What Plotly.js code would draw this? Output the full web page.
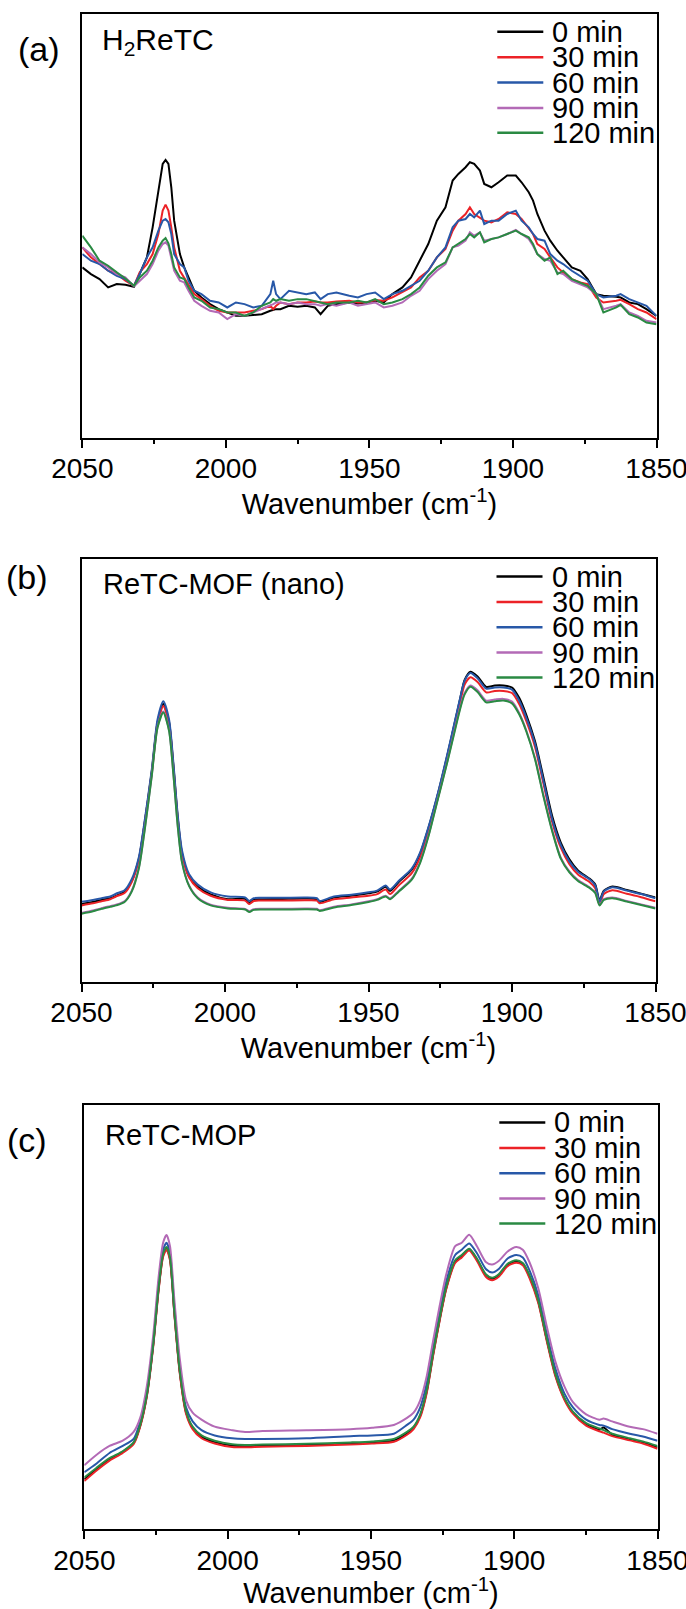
<!DOCTYPE html>
<html>
<head>
<meta charset="utf-8">
<script src="https://cdn.plot.ly/plotly-3.0.1.min.js"></script>
<style>html,body{margin:0;padding:0;background:#fff;overflow:hidden;}#chart{width:686px;height:1609px;}</style>
</head>
<body>
<div id="chart"></div>
<script>
// ---------- DATA ----------
const seriesNames = ['0 min', '30 min', '60 min', '90 min', '120 min'];
const panelLetters = ['(a)', '(b)', '(c)'];
const panelNames = ['H<sub>2</sub>ReTC', 'ReTC-MOF (nano)', 'ReTC-MOP'];
const xTickVals = [2050, 2000, 1950, 1900, 1850];
const xTitle = 'Wavenumber (cm<sup>-1</sup>)';

// (a) H2ReTC — wavenumber (cm-1)
const xA = [2050,2047,2044,2041,2038,2035,2032,2030,2027.5,2025.5,
  2023.5,2022,2021,2020,2019,2018,2016,2014.5,2013,2011,
  2008.5,2005.5,2002.5,1999.5,1996.5,1993.5,1990.5,1987.5,1984.5,1983.5,
  1982.5,1981,1978,1975,1972,1969,1967,1964.5,1961.5,1957,
  1954,1951,1948,1945,1942,1938.5,1935.5,1932.5,1929.5,1926.5,
  1923.5,1921,1919,1916.5,1915,1913.5,1911.5,1910,1907.5,1905,
  1902,1899,1897,1894.5,1893,1891.5,1889,1887,1884.5,1882.5,
  1879.5,1876.5,1874,1871,1868.5,1864,1862.5,1859.5,1856.5,1853.5,
  1850];
const a0 = [.510,.490,.475,.450,.460,.458,.452,.490,.540,.630,
  .740,.820,.832,.820,.750,.650,.550,.510,.480,.440,
  .420,.400,.385,.375,.365,.365,.368,.370,.380,.382,
  .385,.385,.395,.392,.395,.390,.370,.395,.400,.405,
  .402,.405,.410,.405,.430,.450,.480,.530,.580,.650,
  .690,.770,.790,.810,.825,.820,.800,.760,.750,.765,
  .785,.785,.765,.735,.710,.670,.620,.590,.560,.540,
  .510,.500,.475,.430,.425,.422,.420,.405,.400,.385,
  .365];
const a30 = [.570,.540,.520,.500,.490,.470,.455,.495,.520,.550,
  .610,.680,.698,.680,.630,.570,.500,.480,.460,.430,
  .415,.395,.380,.375,.375,.375,.380,.385,.395,.385,
  .395,.405,.400,.405,.405,.408,.405,.405,.408,.410,
  .405,.405,.412,.410,.420,.435,.450,.480,.500,.540,
  .565,.620,.650,.670,.690,.670,.660,.650,.645,.655,
  .675,.670,.655,.625,.610,.580,.565,.540,.510,.495,
  .475,.465,.460,.420,.405,.410,.413,.400,.385,.375,
  .355];
const a60 = [.550,.530,.520,.500,.485,.475,.455,.490,.540,.570,
  .620,.650,.655,.645,.610,.550,.520,.510,.470,.440,
  .430,.410,.405,.390,.405,.400,.390,.395,.430,.470,
  .430,.415,.440,.435,.430,.435,.415,.430,.435,.425,
  .420,.430,.435,.415,.430,.440,.455,.470,.500,.540,
  .570,.630,.650,.655,.670,.660,.680,.640,.650,.650,
  .670,.680,.650,.630,.610,.595,.590,.550,.530,.520,
  .500,.485,.470,.430,.420,.425,.430,.415,.405,.395,
  .365];
const a90 = [.570,.550,.525,.510,.490,.480,.453,.470,.490,.520,
  .560,.580,.585,.575,.540,.500,.470,.465,.440,.410,
  .395,.380,.375,.355,.370,.365,.375,.385,.395,.400,
  .405,.405,.400,.405,.400,.400,.395,.400,.395,.405,
  .395,.400,.405,.390,.395,.405,.425,.440,.475,.500,
  .520,.570,.575,.590,.615,.605,.615,.590,.595,.600,
  .610,.622,.610,.595,.575,.550,.535,.530,.495,.490,
  .470,.460,.450,.430,.385,.395,.400,.375,.365,.350,
  .345];
const a120 = [.605,.570,.530,.515,.495,.477,.455,.480,.500,.530,
  .570,.590,.598,.582,.550,.510,.480,.475,.450,.420,
  .410,.390,.385,.375,.375,.365,.375,.395,.405,.415,
  .410,.415,.410,.415,.415,.410,.405,.400,.405,.405,
  .410,.405,.415,.400,.405,.415,.430,.450,.485,.510,
  .525,.570,.580,.595,.610,.600,.615,.585,.595,.600,
  .610,.620,.610,.600,.580,.550,.530,.540,.490,.500,
  .475,.465,.455,.430,.375,.390,.398,.370,.360,.345,
  .340];

// (b) ReTC-MOF (nano)
const xB = [2050,2046,2043,2040,2038,2035,2032.5,2030,2028,2025.5,
  2023.5,2021.5,2019.5,2018,2016.5,2015,2012.5,2009.5,2005,1999,
  1993,1991.5,1990,1987,1980,1972,1968,1967,1962,1956,
  1950,1947,1944,1942.5,1939.5,1935,1932,1929,1926,1922.5,
  1919.5,1918,1916.5,1914.5,1912,1909,1906,1903,1900,1897.5,
  1895,1892,1889,1886,1883,1880,1877,1873,1871,1869.5,
  1868,1865,1860,1855,1850];
const b0 = [.226,.232,.238,.243,.250,.262,.293,.358,.462,.612,
  .755,.808,.756,.630,.480,.375,.305,.276,.254,.240,
  .241,.228,.239,.240,.241,.242,.240,.232,.245,.250,
  .257,.262,.276,.264,.290,.325,.373,.450,.540,.660,
  .770,.826,.878,.902,.888,.858,.862,.862,.856,.826,
  .776,.700,.592,.482,.405,.356,.324,.300,.283,.236,
  .265,.277,.267,.256,.245];
const b30 = [.222,.228,.234,.240,.248,.258,.290,.355,.460,.608,
  .750,.802,.750,.625,.476,.372,.303,.272,.250,.238,
  .236,.226,.235,.236,.236,.237,.236,.228,.240,.245,
  .250,.255,.268,.255,.280,.315,.362,.440,.530,.650,
  .762,.815,.865,.886,.872,.842,.846,.846,.840,.808,
  .758,.684,.575,.465,.390,.342,.312,.290,.272,.226,
  .255,.266,.256,.246,.234];
const b60 = [.233,.238,.243,.248,.256,.266,.298,.363,.468,.618,
  .763,.816,.763,.638,.488,.383,.313,.283,.260,.248,
  .245,.235,.243,.244,.244,.245,.243,.235,.248,.253,
  .260,.265,.280,.268,.293,.328,.376,.453,.543,.663,
  .773,.828,.876,.898,.883,.853,.856,.856,.850,.818,
  .768,.693,.583,.473,.398,.350,.320,.298,.280,.233,
  .263,.275,.265,.255,.243];
const b90 = [.200,.207,.214,.220,.224,.234,.265,.333,.443,.602,
  .742,.786,.733,.607,.458,.350,.280,.245,.224,.215,
  .212,.205,.211,.212,.212,.213,.212,.208,.218,.225,
  .234,.240,.250,.242,.264,.299,.349,.429,.528,.643,
  .749,.800,.840,.862,.848,.818,.821,.823,.815,.782,
  .731,.651,.541,.441,.361,.321,.296,.275,.260,.224,
  .240,.245,.235,.225,.215];
const b120 = [.198,.205,.212,.218,.222,.232,.262,.330,.440,.600,
  .740,.783,.730,.605,.455,.348,.278,.243,.222,.213,
  .210,.203,.209,.210,.210,.211,.210,.206,.216,.223,
  .232,.238,.248,.240,.262,.296,.346,.426,.525,.640,
  .745,.796,.836,.858,.843,.813,.816,.818,.810,.778,
  .728,.648,.538,.438,.358,.318,.293,.273,.258,.222,
  .238,.243,.233,.223,.213];

// (c) ReTC-MOP
const xC = [2050,2045.7,2041.2,2036.6,2032.8,2030.5,2028.2,2025.9,2024.1,2022.5,
  2021.3,2020.1,2018.6,2016.7,2014.5,2012.2,2009.1,2004.5,1998.4,1993.9,
  1987.8,1972.5,1957.2,1949.6,1942,1937.4,1935.1,1932.8,1930.5,1928.3,
  1926,1923.7,1920.6,1918.3,1915.7,1913,1909.9,1907.7,1905.4,1902.3,
  1899.3,1897,1894.7,1891.6,1888.6,1885.6,1882.5,1879.5,1874.9,1870.3,
  1868.8,1865.8,1859.7,1855.1,1850];
const c0 = [.142,.171,.199,.220,.245,.295,.380,.529,.683,.781,
  .801,.771,.619,.449,.333,.289,.263,.248,.238,.236,
  .238,.240,.244,.247,.253,.273,.289,.323,.393,.498,
  .598,.688,.763,.779,.798,.769,.724,.714,.724,.754,
  .764,.756,.721,.649,.539,.439,.372,.332,.299,.283,
  .290,.269,.256,.247,.233];
const c30 = [.137,.167,.195,.217,.242,.292,.377,.525,.679,.777,
  .797,.767,.615,.445,.329,.285,.259,.244,.234,.233,
  .235,.237,.241,.244,.249,.269,.285,.319,.389,.494,
  .595,.685,.759,.775,.795,.765,.720,.710,.720,.750,
  .760,.753,.717,.645,.535,.435,.369,.329,.295,.279,
  .275,.265,.253,.244,.229];
const c60 = [.162,.187,.217,.237,.257,.307,.387,.537,.697,.797,
  .817,.787,.637,.467,.347,.307,.282,.267,.259,.257,
  .257,.259,.265,.267,.272,.297,.312,.347,.417,.517,
  .617,.707,.782,.797,.815,.787,.742,.732,.742,.772,
  .782,.775,.739,.667,.557,.457,.387,.347,.312,.297,
  .295,.285,.272,.264,.252];
const c90 = [.182,.212,.237,.252,.277,.317,.407,.557,.717,.817,
  .839,.807,.657,.487,.367,.332,.312,.292,.282,.277,
  .280,.282,.285,.289,.297,.317,.332,.367,.437,.537,
  .637,.727,.807,.817,.840,.807,.762,.755,.765,.792,
  .805,.797,.762,.687,.577,.477,.407,.362,.327,.312,
  .315,.307,.292,.285,.272];
const c120 = [.147,.175,.202,.222,.247,.297,.382,.532,.687,.785,
  .805,.775,.622,.452,.337,.292,.267,.252,.242,.240,
  .241,.243,.247,.250,.257,.277,.292,.327,.397,.502,
  .602,.692,.767,.782,.800,.772,.727,.717,.727,.757,
  .767,.759,.725,.652,.542,.442,.375,.335,.302,.287,
  .282,.272,.259,.250,.237];

// ---------- STYLE / LAYOUT ----------
const colors = ['#000000', '#ec2227', '#2858a8', '#b36ab6', '#2a8a43'];
const FONT = 'Liberation Sans, Arial, Helvetica, sans-serif';
const W = 686, H = 1609, MB = 60;   // bottom margin keeps last axis labels inside the plot area
const boxes = [
  {l: 82.3, r: 656.5, t: 14.3, b: 437.7, ymax: 1.268},
  {l: 81.5, r: 655.5, t: 559, b: 981.7, ymax: 1.230},
  {l: 84.3, r: 657.5, t: 1105, b: 1529, ymax: 1.210}
];
const panels = [
  {x: xA, ys: [a0, a30, a60, a90, a120], shape: 'linear'},
  {x: xB, ys: [b0, b30, b60, b90, b120], shape: 'spline'},
  {x: xC, ys: [c0, c30, c60, c90, c120], shape: 'spline'}
];
const letterPos = [{x: 38.5, y: 49}, {x: 27, y: 577.5}, {x: 26.5, y: 1140}];
const namePos = [{x: 100, y: 41}, {x: 100.5, y: 584}, {x: 103, y: 1135}];
const nameSize = [30, 29, 29];
const legRows = [17.5, 43, 68.3, 93.6, 118.5];

const PH = H - MB;
const px = v => v / W;
const py = v => (PH - v) / PH;

const traces = [];
const layout = {
  width: W, height: H,
  margin: {l: 0, r: 0, t: 0, b: MB, pad: 0},
  paper_bgcolor: '#fff', plot_bgcolor: '#fff',
  showlegend: false,
  font: {family: FONT, color: '#000'},
  annotations: [], shapes: []
};

panels.forEach((p, i) => {
  const n = i === 0 ? '' : String(i + 1);
  const bx = boxes[i];
  p.ys.forEach((y, k) => {
    traces.push({
      type: 'scatter', mode: 'lines', name: seriesNames[k],
      x: p.x, y: y, xaxis: 'x' + n, yaxis: 'y' + n,
      line: {color: colors[k], width: 2, shape: p.shape, smoothing: 0.7},
      hoverinfo: 'skip'
    });
  });
  layout['xaxis' + n] = {
    domain: [px(bx.l), px(bx.r)], anchor: 'y' + n,
    range: [2050, 1850], tickvals: xTickVals,
    ticks: 'outside', ticklen: 8, tickwidth: 2, tickcolor: '#000',
    ticklabelstandoff: -3, ticklabeloverflow: 'allow',
    minor: {dtick: 25, tick0: 1850, ticks: 'outside', ticklen: 4, tickwidth: 2, tickcolor: '#000', showgrid: false},
    showline: true, linewidth: 2, linecolor: '#000', mirror: true,
    showgrid: false, zeroline: false, automargin: false,
    tickfont: {family: FONT, size: 28, color: '#000'},
    title: {text: xTitle, font: {family: FONT, size: 29, color: '#000'}, standoff: 9}
  };
  layout['yaxis' + n] = {
    domain: [py(bx.b), py(bx.t)], anchor: 'x' + n,
    range: [0, bx.ymax], showticklabels: false, ticks: '',
    showline: true, linewidth: 2, linecolor: '#000', mirror: true,
    showgrid: false, zeroline: false, automargin: false
  };
  layout.annotations.push({
    xref: 'paper', yref: 'paper', x: px(letterPos[i].x), y: py(letterPos[i].y),
    xanchor: 'center', yanchor: 'middle', showarrow: false,
    text: panelLetters[i], font: {family: FONT, size: 34, color: '#000'}
  });
  layout.annotations.push({
    xref: 'paper', yref: 'paper', x: px(namePos[i].x), y: py(namePos[i].y),
    xanchor: 'left', yanchor: 'middle', showarrow: false,
    text: panelNames[i], font: {family: FONT, size: nameSize[i], color: '#000'}
  });
  seriesNames.forEach((s, k) => {
    const yy = py(bx.t + legRows[k]);
    layout.shapes.push({
      type: 'line', xref: 'paper', yref: 'paper',
      x0: px(bx.l + 415), x1: px(bx.l + 461), y0: yy, y1: yy,
      line: {color: colors[k], width: 2.5}
    });
    layout.annotations.push({
      xref: 'paper', yref: 'paper', x: px(bx.l + 468), y: yy,
      xanchor: 'left', yanchor: 'middle', showarrow: false,
      text: s, font: {family: FONT, size: 29, color: '#000'}
    });
  });
});

Plotly.newPlot('chart', traces, layout, {staticPlot: true, displayModeBar: false});
</script>
</body>
</html>
